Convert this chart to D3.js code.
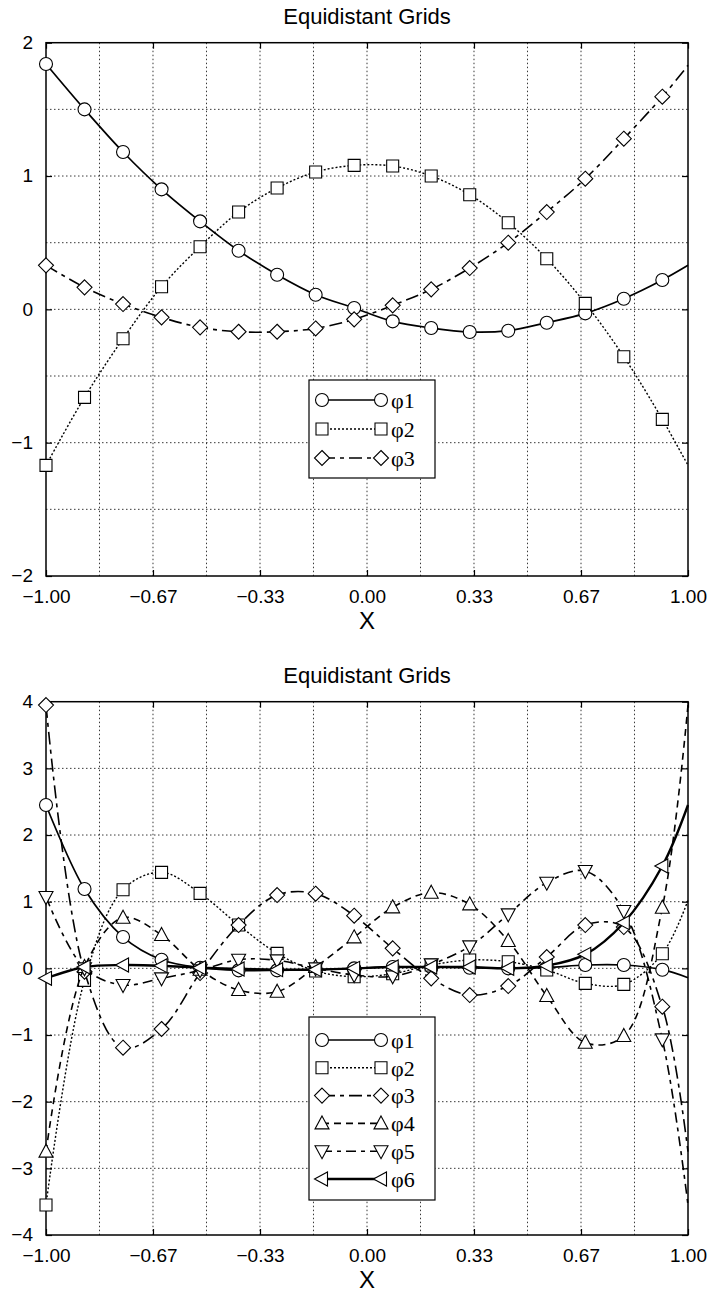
<!DOCTYPE html>
<html>
<head>
<meta charset="utf-8">
<script src="https://cdn.jsdelivr.net/npm/d3@7"></script>
<style>
  body { margin: 0; background: #fff; }
  svg text { font-family: "Liberation Sans", Arial, sans-serif; fill: #000; }
  .legend text { font-family: "Liberation Serif", "Times New Roman", serif; }
</style>
</head>
<body>
<div class="chart"></div>
<script>
var width = 713, height = 1294;

// sample positions (markers on all but the last one)
var xs = [-1.00, -0.88, -0.76, -0.64, -0.52, -0.40, -0.28, -0.16, -0.04,
          0.08, 0.20, 0.32, 0.44, 0.56, 0.68, 0.80, 0.92, 1.00];

var xTicks = [-1, -0.6667, -0.3333, 0, 0.3333, 0.6667, 1];
var xTickLabels = ["\u22121.00", "\u22120.67", "\u22120.33", "0.00", "0.33", "0.67", "1.00"];
var xGrid = [-0.8333, -0.6667, -0.5, -0.3333, -0.1667, 0, 0.1667, 0.3333, 0.5, 0.6667, 0.8333];

var topYTicks = [-2, -1, 0, 1, 2];
var topYGrid = [-1.5, -1, -0.5, 0, 0.5, 1, 1.5];
var botYTicks = [-4, -3, -2, -1, 0, 1, 2, 3, 4];
var botYGrid = [-3, -2, -1, 0, 1, 2, 3];

var titles = ["Equidistant Grids", "Equidistant Grids"];
var topNames = ["\u03c61", "\u03c62", "\u03c63"];
var botNames = ["\u03c61", "\u03c62", "\u03c63", "\u03c64", "\u03c65", "\u03c66"];

// top panel: 3 functions
var topPhi1 = [1.84, 1.50, 1.18, 0.90, 0.66, 0.44, 0.26, 0.11, 0.01, -0.09, -0.14, -0.17, -0.16, -0.10, -0.03, 0.08, 0.22, 0.33];
var topPhi2 = [-1.17, -0.66, -0.22, 0.17, 0.47, 0.73, 0.91, 1.03, 1.08, 1.075, 1.00, 0.86, 0.65, 0.38, 0.045, -0.355, -0.825, -1.17];
var topPhi3 = [0.33, 0.165, 0.04, -0.06, -0.135, -0.168, -0.168, -0.143, -0.075, 0.03, 0.15, 0.31, 0.50, 0.73, 0.98, 1.28, 1.595, 1.83];

// bottom panel: 6 functions
var botPhi1 = [2.45, 1.19, 0.47, 0.13, 0.01, -0.03, -0.03, -0.02, 0.00, 0.02, 0.02, 0.01, 0.00, 0.01, 0.05, 0.05, -0.02, -0.14];
var botPhi2 = [-3.55, -0.18, 1.18, 1.44, 1.125, 0.65, 0.225, -0.04, -0.125, -0.08, 0.05, 0.125, 0.10, -0.025, -0.225, -0.24, 0.22, 1.02];
var botPhi3 = [3.95, -0.05, -1.19, -0.91, -0.07, 0.65, 1.10, 1.12, 0.79, 0.30, -0.15, -0.40, -0.265, 0.17, 0.65, 0.62, -0.575, -2.75];
var botPhi4 = [-2.75, 0.02, 0.76, 0.50, -0.02, -0.325, -0.35, 0.02, 0.465, 0.915, 1.135, 0.96, 0.41, -0.415, -1.115, -1.015, 0.91, 3.95];
var botPhi5 = [1.07, 0.00, -0.25, -0.15, -0.03, 0.13, 0.12, 0.00, -0.10, -0.12, 0.06, 0.33, 0.81, 1.285, 1.46, 0.86, -1.065, -3.55];
var botPhi6 = [-0.15, 0.02, 0.05, 0.04, 0.01, -0.01, -0.02, -0.02, 0.00, 0.02, 0.02, 0.02, 0.00, 0.04, 0.21, 0.685, 1.535, 2.45];

var styles = [
  { shape: "circle",   dash: null,          w: 1.7 },
  { shape: "square",   dash: "2,2",         w: 1.4 },
  { shape: "diamond",  dash: "13,5,4,5",    w: 1.6 },
  { shape: "triUp",    dash: "7,5",         w: 1.6 },
  { shape: "triDown",  dash: "10,5,4,5",    w: 1.6 },
  { shape: "triLeft",  dash: null,          w: 2.4 }
];

function shapePath(type) {
  switch (type) {
    case "circle":  return "M6.5,0A6.5,6.5 0 1,1 -6.5,0A6.5,6.5 0 1,1 6.5,0Z";
    case "square":  return "M-6,-6H6V6H-6Z";
    case "diamond": return "M0,-7.5L7.5,0L0,7.5L-7.5,0Z";
    case "triUp":   return "M0,-7.5L7,5.5L-7,5.5Z";
    case "triDown": return "M0,7.5L7,-5.5L-7,-5.5Z";
    case "triLeft": return "M-7.5,0L5.5,-7L5.5,7Z";
  }
}

var svg = d3.select(".chart").append("svg")
    .attr("width", width)
    .attr("height", height);

var plotLeft = 46, plotRight = 688, plotH = 533.3;

function drawPanel(top, yDomain, yTicks, yGrid, series, names, title, legend) {
  var x = d3.scaleLinear().domain([-1, 1]).range([plotLeft, plotRight]);
  var y = d3.scaleLinear().domain(yDomain).range([top + plotH, top]);
  var g = svg.append("g");

  // dotted grid
  g.append("g").selectAll("line").data(xGrid).enter().append("line")
      .attr("x1", function(d) { return x(d); }).attr("x2", function(d) { return x(d); })
      .attr("y1", top).attr("y2", top + plotH)
      .attr("stroke", "#222").attr("stroke-width", 0.9).attr("stroke-dasharray", "1.5,2.5");
  g.append("g").selectAll("line").data(yGrid).enter().append("line")
      .attr("x1", plotLeft).attr("x2", plotRight)
      .attr("y1", function(d) { return y(d); }).attr("y2", function(d) { return y(d); })
      .attr("stroke", "#222").attr("stroke-width", 0.9).attr("stroke-dasharray", "1.5,2.5");

  // axes, ticks pointing inwards
  var bottom = g.append("g").attr("transform", "translate(0," + (top + plotH) + ")")
      .call(d3.axisBottom(x).tickValues(xTicks).tickSize(-6).tickPadding(13.5)
        .tickFormat(function(d, i) { return xTickLabels[i]; }));
  var left = g.append("g").attr("transform", "translate(" + plotLeft + ",0)")
      .call(d3.axisLeft(y).tickValues(yTicks).tickSize(-6).tickPadding(13)
        .tickFormat(function(d) { return d < 0 ? "\u2212" + (-d) : d; }));
  left.selectAll("text").attr("dy", "0.3em");
  var topAx = g.append("g").attr("transform", "translate(0," + top + ")")
      .call(d3.axisTop(x).tickValues(xTicks).tickSize(-6).tickFormat(""));
  var rightAx = g.append("g").attr("transform", "translate(" + plotRight + ",0)")
      .call(d3.axisRight(y).tickValues(yTicks).tickSize(-6).tickFormat(""));
  [bottom, left, topAx, rightAx].forEach(function(a) {
    a.select(".domain").remove();
    a.selectAll(".tick line").attr("stroke", "#000").attr("stroke-width", 1.2);
    a.selectAll("text").attr("font-size", 19).attr("font-family", "Liberation Sans, Arial, sans-serif");
  });

  g.append("rect")
      .attr("x", plotLeft).attr("y", top)
      .attr("width", plotRight - plotLeft).attr("height", plotH)
      .attr("fill", "none").attr("stroke", "#000").attr("stroke-width", 1.5);

  g.append("text")
      .attr("x", (plotLeft + plotRight) / 2).attr("y", top - 19)
      .attr("text-anchor", "middle").attr("font-size", 22)
      .text(title);
  g.append("text")
      .attr("x", (plotLeft + plotRight) / 2).attr("y", top + plotH + 53)
      .attr("text-anchor", "middle").attr("font-size", 24)
      .text("X");

  var line = d3.line()
      .x(function(d, i) { return x(xs[i]); })
      .y(function(d) { return y(d); })
      .curve(d3.curveCatmullRom.alpha(0.5));

  series.forEach(function(vals, k) {
    var st = styles[k];
    g.append("path")
        .datum(vals)
        .attr("d", line)
        .attr("fill", "none").attr("stroke", "#000")
        .attr("stroke-width", st.w)
        .attr("stroke-dasharray", st.dash);
    g.append("g").selectAll("path")
        .data(vals.filter(function(d, i) { return xs[i] < 1; }))
        .enter().append("path")
        .attr("transform", function(d, i) { return "translate(" + x(xs[i]) + "," + y(d) + ")"; })
        .attr("d", shapePath(st.shape))
        .attr("fill", "#fff").attr("stroke", "#000").attr("stroke-width", 1.1);
  });

  // legend
  var lg = g.append("g").attr("class", "legend");
  lg.append("rect")
      .attr("x", 309).attr("y", legend.y)
      .attr("width", 126).attr("height", legend.h)
      .attr("fill", "#fff").attr("stroke", "#000").attr("stroke-width", 1.2);
  names.forEach(function(name, k) {
    var st = styles[k];
    var ly = legend.y + legend.first + k * legend.step;
    lg.append("line")
        .attr("x1", 322).attr("x2", 381).attr("y1", ly).attr("y2", ly)
        .attr("stroke", "#000").attr("stroke-width", st.w)
        .attr("stroke-dasharray", st.dash);
    [322, 381].forEach(function(px) {
      lg.append("path")
          .attr("transform", "translate(" + px + "," + ly + ")")
          .attr("d", shapePath(st.shape))
          .attr("fill", "#fff").attr("stroke", "#000").attr("stroke-width", 1.1);
    });
    lg.append("text")
        .attr("x", 391).attr("y", ly).attr("dy", "0.35em")
        .attr("font-size", 22)
        .text(name);
  });
}

drawPanel(42.7, [-2, 2], topYTicks, topYGrid,
  [topPhi1, topPhi2, topPhi3], topNames, titles[0],
  { y: 380, h: 98, first: 20, step: 29 });

drawPanel(701.7, [-4, 4], botYTicks, botYGrid,
  [botPhi1, botPhi2, botPhi3, botPhi4, botPhi5, botPhi6], botNames, titles[1],
  { y: 1017, h: 183, first: 23, step: 27.8 });
</script>
</body>
</html>
